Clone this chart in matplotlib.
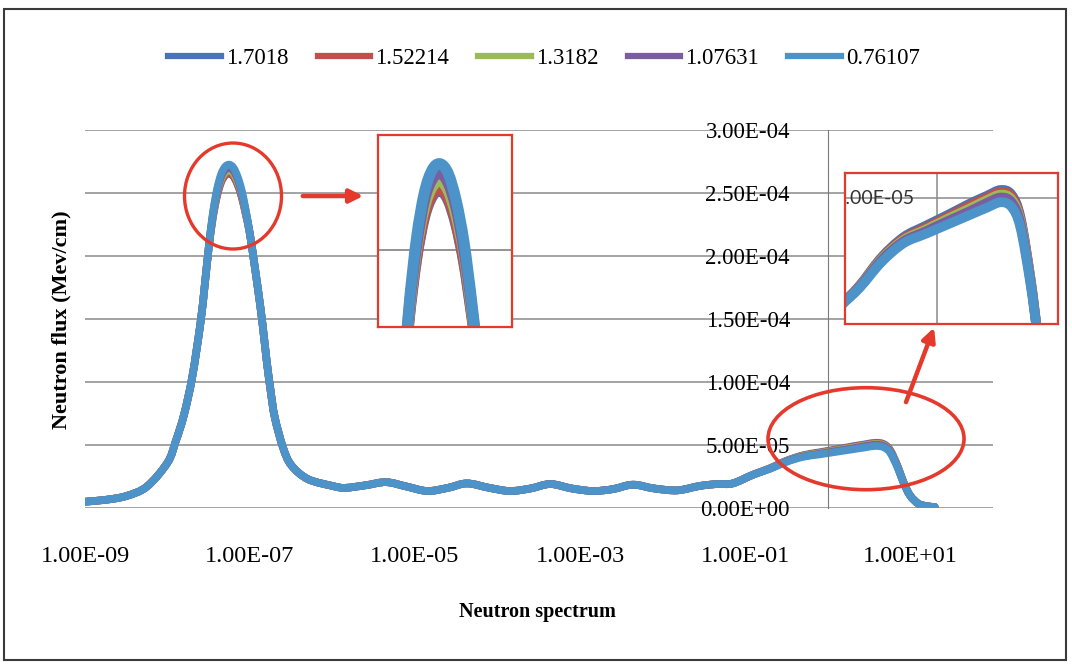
import numpy as np
import matplotlib.pyplot as plt
import matplotlib.transforms as mtransforms
from matplotlib.lines import Line2D
from matplotlib.path import Path
from matplotlib.patches import Ellipse, FancyArrowPatch, Rectangle, PathPatch

plt.rcParams["font.family"] = ["Liberation Serif", "DejaVu Serif"]

# ------------ data: flux per energy group for each case -----------------
series_names = ["1.7018", "1.52214", "1.3182", "1.07631", "0.76107"]
series_colors = ["#4a72b8", "#c0504d", "#9bbb59", "#7a5ea0", "#4b93c8"]

# log10 of neutron energy (MeV)
log_energy = [
    -9.0, -8.75, -8.5, -8.25, -8.0, -7.9, -7.8, -7.7, -7.6, -7.55,
    -7.5, -7.45, -7.4, -7.35, -7.3, -7.25, -7.2, -7.15, -7.1, -7.05,
    -7.0, -6.95, -6.9, -6.85, -6.8, -6.75, -6.7, -6.6, -6.5, -6.3,
    -6.0, -5.85, -5.6, -5.35, -5.1, -4.85, -4.6, -4.37, -4.1, -3.85,
    -3.6, -3.36, -3.1, -2.84, -2.6, -2.36, -2.1, -1.82, -1.55, -1.34,
    -1.15, -0.9, -0.7, -0.5, -0.3, -0.1, 0.1, 0.3, 0.45, 0.58,
    0.68, 0.76, 0.85, 0.92, 1.0, 1.1, 1.2, 1.3,
]

# flux in units of 1e-5 Mev/cm
flux_1_7018 = [
    0.5, 0.65, 0.95, 1.7, 3.6, 5.3, 7.4, 10.4, 14.7, 17.6,
    20.65, 23.05, 24.75, 25.85, 26.4, 26.55, 26.3, 25.65, 24.65, 23.25,
    21.7, 19.5, 17.2, 14.7, 11.8, 9.3, 7.2, 4.8, 3.4, 2.3,
    1.75, 1.6, 1.8, 2.05, 1.7, 1.35, 1.6, 1.95, 1.6, 1.35,
    1.55, 1.9, 1.55, 1.35, 1.5, 1.85, 1.55, 1.4, 1.75, 1.9,
    1.95, 2.65, 3.15, 3.75, 4.18, 4.42, 4.65, 4.89, 5.05, 5.18,
    5.08, 4.6, 3.32, 2.07, 1.0, 0.35, 0.15, 0.08,
]
flux_1_52214 = [
    0.5, 0.65, 0.95, 1.7, 3.6, 5.3, 7.4, 10.4, 14.7, 17.6,
    20.65, 23.1, 24.8, 25.9, 26.45, 26.6, 26.35, 25.7, 24.7, 23.3,
    21.7, 19.5, 17.2, 14.7, 11.8, 9.3, 7.2, 4.8, 3.4, 2.3,
    1.75, 1.6, 1.8, 2.05, 1.7, 1.35, 1.6, 1.95, 1.6, 1.35,
    1.55, 1.9, 1.55, 1.35, 1.5, 1.85, 1.55, 1.4, 1.75, 1.9,
    1.95, 2.65, 3.14, 3.73, 4.15, 4.38, 4.61, 4.85, 5.01, 5.14,
    5.04, 4.56, 3.3, 2.06, 1.0, 0.35, 0.15, 0.08,
]
flux_1_3182 = [
    0.5, 0.65, 0.95, 1.7, 3.6, 5.3, 7.4, 10.4, 14.7, 17.6,
    20.7, 23.2, 25.0, 26.1, 26.65, 26.8, 26.55, 25.9, 24.9, 23.4,
    21.7, 19.5, 17.2, 14.7, 11.8, 9.3, 7.2, 4.8, 3.4, 2.3,
    1.75, 1.6, 1.8, 2.05, 1.7, 1.35, 1.6, 1.95, 1.6, 1.35,
    1.55, 1.9, 1.55, 1.35, 1.5, 1.85, 1.55, 1.4, 1.75, 1.9,
    1.95, 2.65, 3.13, 3.71, 4.12, 4.34, 4.57, 4.79, 4.96, 5.08,
    4.98, 4.51, 3.28, 2.05, 1.0, 0.35, 0.15, 0.08,
]
flux_1_07631 = [
    0.5, 0.65, 0.95, 1.7, 3.6, 5.3, 7.4, 10.4, 14.7, 17.6,
    20.7, 23.3, 25.1, 26.3, 26.85, 27.0, 26.75, 26.1, 25.0, 23.5,
    21.7, 19.5, 17.2, 14.7, 11.8, 9.3, 7.2, 4.8, 3.4, 2.3,
    1.75, 1.6, 1.8, 2.05, 1.7, 1.35, 1.6, 1.95, 1.6, 1.35,
    1.55, 1.9, 1.55, 1.35, 1.5, 1.85, 1.55, 1.4, 1.75, 1.9,
    1.95, 2.65, 3.12, 3.69, 4.09, 4.3, 4.52, 4.73, 4.9, 5.02,
    4.92, 4.46, 3.25, 2.05, 1.0, 0.35, 0.15, 0.08,
]
flux_0_76107 = [
    0.5, 0.65, 0.95, 1.7, 3.6, 5.3, 7.4, 10.4, 14.7, 17.6,
    20.7, 23.4, 25.3, 26.5, 27.1, 27.25, 27.0, 26.3, 25.2, 23.6,
    21.7, 19.5, 17.2, 14.7, 11.8, 9.3, 7.2, 4.8, 3.4, 2.3,
    1.75, 1.6, 1.8, 2.05, 1.7, 1.35, 1.6, 1.95, 1.6, 1.35,
    1.55, 1.9, 1.55, 1.35, 1.5, 1.85, 1.55, 1.4, 1.75, 1.9,
    1.95, 2.65, 3.1, 3.65, 4.05, 4.25, 4.45, 4.65, 4.8, 4.92,
    4.82, 4.38, 3.2, 2.05, 1.0, 0.35, 0.15, 0.08,
]
all_flux = [flux_1_7018, flux_1_52214, flux_1_3182, flux_1_07631, flux_0_76107]

y_ticks = [0.0, 5e-5, 1e-4, 1.5e-4, 2e-4, 2.5e-4, 3e-4]
x_ticks = [1e-9, 1e-7, 1e-5, 1e-3, 1e-1, 1e1]

RED = "#e53a2b"


def smoothed_path(lx, y):
    # smoothed line through the points (Catmull-Rom as cubic Bezier,
    # built in log-energy space and mapped back to energy)
    pts = np.column_stack([lx, y])
    n = len(pts)
    verts = [pts[0]]
    codes = [Path.MOVETO]
    for i in range(n - 1):
        p0 = pts[max(i - 1, 0)]
        p1 = pts[i]
        p2 = pts[i + 1]
        p3 = pts[min(i + 2, n - 1)]
        verts += [p1 + (p2 - p0) / 6, p2 - (p3 - p1) / 6, p2]
        codes += [Path.CURVE4] * 3
    verts = np.array(verts)
    verts[:, 0] = 10.0 ** verts[:, 0]
    return Path(verts, codes)


paths = [smoothed_path(np.array(log_energy), np.array(f) * 1e-5) for f in all_flux]


def draw_series(target, lw):
    for p, c in zip(paths, series_colors):
        target.add_patch(PathPatch(p, fill=False, ec=c, lw=lw,
                                   capstyle="round", joinstyle="round"))


# ------------ main chart -----------------------------------------------
fig = plt.figure(figsize=(10.72, 6.65), dpi=100)
ax = fig.add_axes([85 / 1072, 157 / 665, 907.5 / 1072, 378 / 665])
ax.set_xscale("log")
draw_series(ax, 5.5)

ax.set_xlim(1e-9, 1e2)
ax.set_ylim(0, 3e-4)
ax.set_yticks(y_ticks)
ax.set_yticklabels([f"{v:.2E}" for v in y_ticks])
ax.set_xticks(x_ticks)
ax.set_xticklabels([f"{v:.2E}" for v in x_ticks])
ax.xaxis.set_minor_locator(plt.NullLocator())
ax.grid(axis="y", color="#8a8a8a", lw=1.1)
ax.set_axisbelow(True)
for s in ["top", "right", "bottom"]:
    ax.spines[s].set_visible(False)
ax.spines["left"].set_position(("data", 1.0))
ax.spines["left"].set_color("#7a7a7a")
ax.tick_params(axis="both", length=0)
ax.tick_params(axis="y", pad=27, labelsize=16.5)
ax.tick_params(axis="x", pad=27, labelsize=17.5)

fig.text(61 / 1072, 1 - 320 / 665, "Neutron flux (Mev/cm)", rotation=90,
         ha="center", va="center", fontsize=16, fontweight="bold")
fig.text(537 / 1072, 1 - 612 / 665, "Neutron spectrum", ha="center",
         va="center", fontsize=14.5, fontweight="bold")

handles = [Line2D([], [], color=c, lw=4.5) for c in series_colors]
fig.legend(handles, series_names, loc="center",
           bbox_to_anchor=(544 / 1072, 1 - 58 / 665), ncol=5, frameon=False,
           fontsize=16.5, handlelength=2.3, handletextpad=0.22,
           columnspacing=1.27)

# ------------ zoomed insets --------------------------------------------
ins1 = fig.add_axes([378 / 1072, 338 / 665, 134 / 1072, 192 / 665])
ins2 = fig.add_axes([845 / 1072, 341 / 665, 213 / 1072, 151 / 665])
for ins, lw in [(ins1, 8), (ins2, 7)]:
    ins.set_xscale("log")
    draw_series(ins, lw)
    ins.set_xticks([])
    ins.set_yticks([])
    ins.minorticks_off()
    for s in ins.spines.values():
        s.set_color(RED)
        s.set_linewidth(1.6)

ins1.set_xlim(10 ** -7.643, 10 ** -6.797)
ins1.set_ylim(2.30e-4, 2.80e-4)
ins1.axhline(2.5e-4, color="#8a8a8a", lw=1.3, zorder=0)

ins2.set_xlim(10 ** -0.83, 10 ** 1.1)
ins2.set_ylim(2.34e-5, 5.54e-5)
ins2.axhline(5e-5, color="#8a8a8a", lw=1.1, zorder=0)
ins2.axvline(1.0, color="#8a8a8a", lw=1.1, zorder=0)
ins2.text(10 ** -0.195, 5e-5, "5.00E-05", ha="right", va="center",
          fontsize=14, family="Lato", color="#333333", clip_on=True)

# ------------ red markup: circles and arrows ---------------------------
ident = mtransforms.IdentityTransform()
c1 = ax.transData.transform((10 ** -7.206, 2.476e-4))
c2 = ax.transData.transform((10 ** 0.467, 5.5e-5))
fig.add_artist(Ellipse(c1, 97, 106, fill=False, ec=RED, lw=2.4,
                       transform=ident))
fig.add_artist(Ellipse(c2, 196, 102, fill=False, ec=RED, lw=2.6,
                       transform=ident))

i1 = ins1.get_position()
i2 = ins2.get_position()
fig.add_artist(FancyArrowPatch((c1[0] + 67, c1[1]), (i1.x0 * 1072 - 12, c1[1]),
                               arrowstyle="-|>", mutation_scale=20, lw=3.2,
                               color=RED, transform=ident))
fig.add_artist(FancyArrowPatch((c2[0] + 39, c2[1] + 34),
                               (c2[0] + 69, i2.y0 * 665 - 1),
                               arrowstyle="-|>", mutation_scale=20, lw=3.2,
                               color=RED, transform=ident))

# frame round the whole picture
fig.add_artist(Rectangle((4 / 1072, 5 / 665), 1062 / 1072, 651 / 665,
                         fill=False, ec="#3a3a3a", lw=1.5,
                         transform=fig.transFigure))

fig.savefig("out.png", dpi=100)
